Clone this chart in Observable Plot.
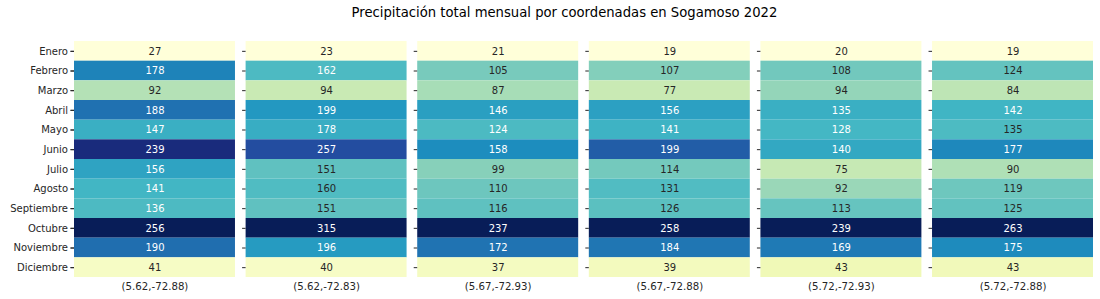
<!DOCTYPE html>
<html>
<head>
<meta charset="utf-8">
<script src="https://cdn.jsdelivr.net/npm/d3@7"></script>
<script src="https://cdn.jsdelivr.net/npm/@observablehq/plot@0.6"></script>
<style>
  body { margin: 0; background: #fff; }
  #title { width: 1100px; box-sizing: border-box; padding-left: 29px; height: 26px; line-height: 26px;
           text-align: center; font-family: "DejaVu Sans", sans-serif; font-size: 13.2px; color: #000; }
</style>
</head>
<body>
<div id="title">Precipitación total mensual por coordenadas en Sogamoso 2022</div>
<div id="chart"></div>
<script>
const months = ["Enero","Febrero","Marzo","Abril","Mayo","Junio","Julio","Agosto","Septiembre","Octubre","Noviembre","Diciembre"];
const coords = ["(5.62,-72.88)","(5.62,-72.83)","(5.67,-72.93)","(5.67,-72.88)","(5.72,-72.93)","(5.72,-72.88)"];
const p1 = [27,178,92,188,147,239,156,141,136,256,190,41];
const p2 = [23,162,94,199,178,257,151,160,151,315,196,40];
const p3 = [21,105,87,146,124,158,99,110,116,237,172,37];
const p4 = [19,107,77,156,141,199,114,131,126,258,184,39];
const p5 = [20,108,94,135,128,140,75,92,113,239,169,43];
const p6 = [19,124,84,142,135,177,90,119,125,263,175,43];
const series = [p1,p2,p3,p4,p5,p6];
const palette = ["#ffffd9","#edf8b1","#c7e9b4","#7fcdbb","#41b6c4","#1d91c0","#225ea8","#253494","#081d58"];
const stops = palette.map((_, i) => i / (palette.length - 1));

const table = [];
series.forEach((vals, ci) => {
  const [lo, hi] = d3.extent(vals);
  vals.forEach((v, mi) => table.push({coord: coords[ci], month: months[mi], value: v, norm: (v - lo) / (hi - lo)}));
});

const colorFn = d3.scaleLinear().domain(stops).range(palette).interpolate(d3.interpolateRgb).clamp(true);
function lum(c) {
  const rgb = d3.rgb(c);
  const f = x => { x /= 255; return x <= 0.03928 ? x / 12.92 : Math.pow((x + 0.055) / 1.055, 2.4); };
  return 0.2126 * f(rgb.r) + 0.7152 * f(rgb.g) + 0.0722 * f(rgb.b);
}
const textColor = d => lum(colorFn(d.norm)) > 0.408 ? "#262626" : "#ffffff";

const plot = Plot.plot({
  width: 1100,
  height: 273,
  marginTop: 15,
  marginBottom: 22,
  marginLeft: 74,
  marginRight: 7,
  style: {fontFamily: "DejaVu Sans, sans-serif", fontSize: "10px", color: "#262626", background: "#fff"},
  fx: {domain: coords, paddingInner: 0.062, paddingOuter: 0, round: false, label: null},
  x: {axis: null},
  y: {domain: months, padding: 0, round: false, label: null},
  color: {type: "linear", domain: stops, range: palette, interpolate: "rgb"},
  marks: [
    Plot.cell(table, {fx: "coord", y: "month", fill: "norm"}),
    Plot.text(table, {fx: "coord", y: "month", text: d => String(d.value), fill: textColor, fontSize: 10, frameAnchor: "middle"}),
    Plot.axisY({tickSize: 3.5, tickPadding: 3, label: null, fontSize: 10, stroke: "#262626", fill: "#262626"}),
    Plot.axisY({tickSize: 3.5, tickFormat: () => "", label: null, facetAnchor: null, stroke: "#262626"}),
    Plot.axisFx({anchor: "bottom", tickSize: 0, tickPadding: 5, label: null, fontSize: 10.2, fill: "#262626"})
  ]
});
document.getElementById("chart").appendChild(plot);
</script>
</body>
</html>
